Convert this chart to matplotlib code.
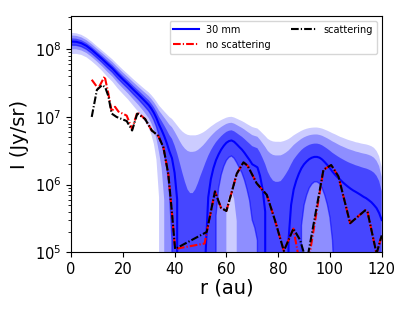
import numpy as np
import matplotlib
matplotlib.use("Agg")
import matplotlib.pyplot as plt

# ---- model (30 mm): mean and 1-sigma, in units of 1e6 Jy/sr ----
r_model = np.concatenate([np.arange(0, 30, 2), np.arange(30, 121)])
mean_model = [130, 129, 123, 112, 98, 84, 72, 61, 52, 43, 36, 30.5, 25.5, 21.5, 18,
              15.0, 13.3, 11.5, 9.6, 7.7, 6.4, 5.2, 4.1, 3.1, 2.45,
              1.5, 0.6, -0.2, -0.8, -1.2, -1.45, -1.55, -1.55, -1.4, -1.15,
              -0.8, -0.4, 0.1, 0.65, 1.2, 1.75, 2.3, 2.8, 3.3, 3.75,
              4.15, 4.4, 4.5, 4.3, 3.95, 3.6, 3.3, 2.95, 2.6, 2.3,
              2.0, 1.9, 1.8, 1.35, 0.85, 0.4, -0.05, -0.3, -0.45, -0.5,
              -0.5, -0.45, -0.3, -0.1, 0.15, 0.5, 0.85, 1.15, 1.45, 1.75,
              2.0, 2.2, 2.38, 2.5, 2.57, 2.57, 2.5, 2.35, 2.15, 1.95,
              1.75, 1.55, 1.4, 1.28, 1.18, 1.08, 1.0, 0.93, 0.87, 0.82,
              0.78, 0.74, 0.7, 0.66, 0.63, 0.59, 0.55, 0.5, 0.45, 0.38, 0.3]
sigma_model = [15, 14.5, 13.5, 12, 10.5, 9, 8, 7.2, 6.3, 5.5, 4.7, 4.1, 3.6, 3.2, 2.9,
               2.7, 2.6, 2.5, 2.42, 2.35, 2.32, 2.3, 2.3, 2.3, 2.3,
               2.3, 2.3, 2.3, 2.3, 2.3, 2.3, 2.3, 2.3, 2.25, 2.2,
               2.15, 2.1, 2.05, 2.02, 2.0, 1.97, 1.95, 1.92, 1.9, 1.88,
               1.87, 1.86, 1.85, 1.84, 1.83, 1.82, 1.8, 1.78, 1.75, 1.72,
               1.7, 1.67, 1.65, 1.63, 1.62, 1.61, 1.6, 1.6, 1.6, 1.6,
               1.6, 1.58, 1.56, 1.54, 1.52, 1.5, 1.5, 1.5, 1.5, 1.5,
               1.5, 1.5, 1.49, 1.48, 1.47, 1.47, 1.46, 1.46, 1.45, 1.44,
               1.42, 1.4, 1.38, 1.34, 1.3, 1.28, 1.25, 1.22, 1.2, 1.18,
               1.15, 1.14, 1.12, 1.11, 1.1, 1.08, 1.05, 1.0, 0.9, 0.75, 0.5]

# ---- measured profiles (log10 of I in Jy/sr) ----
r_scat = [8.0, 10.0, 12.0, 13.2, 14.4, 15.7, 17.6, 21.5, 23.6, 25.6, 28.6, 31.2, 33.7,
          35.7, 37.6, 38.9, 40.2, 52.4, 55.6, 57.9, 60.0, 62.0, 64.0, 66.6, 68.2,
          71.7, 75.6, 78.8, 82.2, 85.9, 88.5, 91.0, 97.5, 100.5, 103.3, 107.8,
          113.6, 114.5, 118.0, 120.0]
logI_scat = [7.00, 7.40, 7.47, 7.44, 7.31, 7.05, 7.00, 6.94, 6.80, 7.05, 6.97, 6.80, 6.72,
             6.55, 6.15, 5.62, 5.05, 5.30, 5.90, 5.66, 5.61, 5.88, 6.16, 6.33, 6.28,
             6.02, 5.85, 5.47, 5.02, 5.35, 5.18, 4.85, 6.22, 6.29, 6.12, 5.43,
             5.62, 5.60, 4.98, 5.25]

r_noscat = [8.0, 10.5, 13.0, 14.4, 15.7, 17.0, 18.3, 21.5, 23.6, 25.6, 28.6, 31.2, 33.7,
            35.7, 37.6, 38.9, 40.2, 51.6, 52.6, 55.6, 57.9, 60.0, 62.0, 64.0, 66.6, 68.2,
            71.7, 75.6, 78.8, 82.2, 85.9, 88.5, 91.0, 97.5, 100.5, 103.3, 107.8,
            113.6, 114.5, 118.0, 120.0]
logI_noscat = [7.55, 7.42, 7.60, 7.35, 7.08, 7.15, 7.08, 7.02, 6.82, 7.07, 6.97, 6.80, 6.72,
               6.55, 6.15, 5.62, 5.05, 5.13, 5.33, 5.90, 5.66, 5.61, 5.88, 6.16, 6.33, 6.28,
               6.02, 5.85, 5.47, 5.02, 5.35, 4.80, 4.70, 6.22, 6.29, 6.12, 5.43,
               5.62, 5.60, 4.98, 5.25]

label_model = "30 mm"
label_noscat = "no scattering"
label_scat = "scattering"

fig = plt.figure(figsize=(4.15, 3.11), dpi=100)
ax = fig.add_axes([0.1711, 0.1887, 0.7487, 0.7598])
ax.set_yscale("log")

m = np.array(mean_model) * 1e6
s = np.array(sigma_model) * 1e6
for k, a in [(3, 0.2), (2, 0.3), (1, 0.5)]:
    ax.fill_between(r_model, m - k * s, m + k * s, color="blue", alpha=a, lw=0)
# steep edges of the 1-sigma envelope appear as lines
ax.plot(r_model, m - s, color="blue", lw=1.0, alpha=0.55)
ax.plot(r_model, m, color="blue", lw=1.5, label=label_model)

ax.plot(r_noscat, 10 ** np.array(logI_noscat), color="red", lw=1.5,
        ls=(0, (3.7, 1.0, 0.6, 1.0)), label=label_noscat)
ax.plot(r_scat, 10 ** np.array(logI_scat), color="black", lw=1.5,
        ls=(0, (3.7, 1.0, 0.6, 1.0)), label=label_scat)

ax.set_xlim(0, 120)
ax.set_ylim(1e5, 3.1e8)
ax.set_xticks([0, 20, 40, 60, 80, 100, 120])
ax.tick_params(labelsize=10.5)
ax.set_xlabel("r (au)", fontsize=14, labelpad=1)
ax.set_ylabel("I (Jy/sr)", fontsize=14)
ax.legend(loc="upper right", ncol=2, fontsize=7, handlelength=2.6)

fig.savefig("out.png", dpi=100)
